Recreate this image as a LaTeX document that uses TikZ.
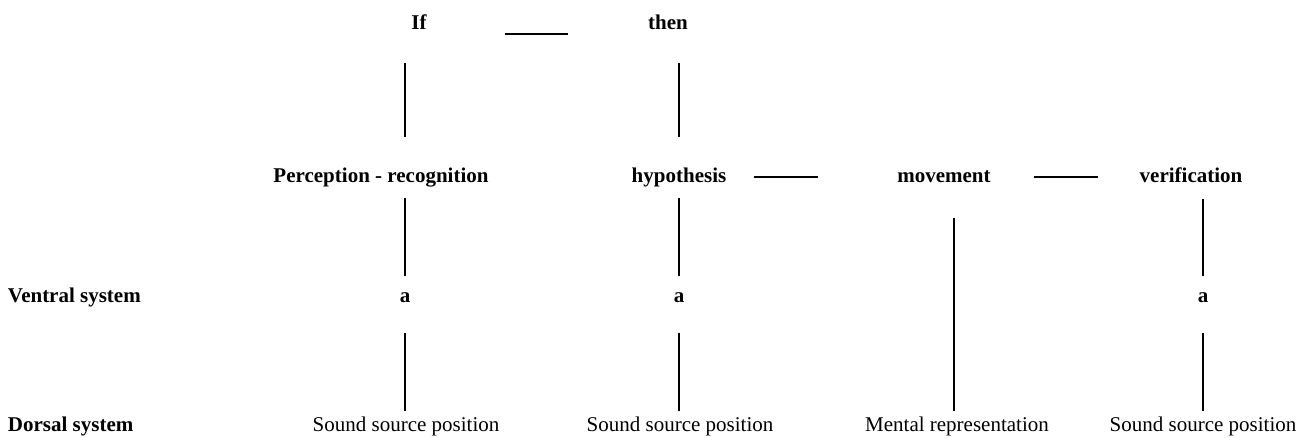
\documentclass[tikz,border=0pt]{standalone}
\usepackage{fontspec}
\setmainfont{Liberation Serif}
\usetikzlibrary{positioning}

\begin{document}
\begin{tikzpicture}[x=1pt, y=-1pt,
  word/.style={inner sep=0pt, outer sep=0pt, text height=15pt, text depth=5pt, anchor=base, font=\fontsize{21}{25}\selectfont\bfseries},
  plain/.style={word, font=\fontsize{21}{25}\selectfont},
  side/.style={word, anchor=base west},
  link/.style={line width=2pt}]
\useasboundingbox (0,0) rectangle (1311,437);

% If -- then
\node (if) [word] at (419,29.5) {If};
\node (then) [word] at (668,29.5) {then};

% Middle row
\node (percep) [word] at (381,182) {Perception - recognition};
\node (hypo) [word] at (679,182) {hypothesis};
\node (move) [word] at (944,182) {movement};
\node (verif) [word] at (1191,182) {verification};

% Ventral system
\node (ventral) [side] at (8,302) {Ventral system};
\node (a1) [word] at (405,302) {a};
\node (a2) [word] at (679,302) {a};
\node (a3) [word] at (1203,302) {a};

% Dorsal system
\node (dorsal) [side] at (8,431) {Dorsal system};
\node (src1) [plain] at (406,431) {Sound source position};
\node (src2) [plain] at (680,431) {Sound source position};
\node (mental) [plain] at (957,431) {Mental representation};
\node (src3) [plain] at (1203,431) {Sound source position};

% Horizontal links
\draw[link, shorten <=78pt, shorten >=80pt] ([yshift=0.5pt]if.south east) -- ([yshift=0.5pt]then.south west);
\draw[link, shorten <=28pt, shorten >=79pt] (hypo.east) -- (move.west);
\draw[link, shorten <=43pt, shorten >=42pt] (move.east) -- (verif.west);

% Vertical links
\draw[link, shorten <=28.5pt, shorten >=30pt] (if.south -| a1) -- (percep.north -| a1);
\draw[link, shorten <=28.5pt, shorten >=30pt] (then.south -| hypo) -- (hypo.north);
\draw[link, shorten <=11pt, shorten >=11pt] (percep.south -| a1) -- (a1.north);
\draw[link, shorten <=11pt, shorten >=11pt] (hypo.south) -- (a2.north);
\draw[link, shorten <=12pt, shorten >=11pt] (verif.south -| a3) -- (a3.north);
\draw[link, shorten <=26pt, shorten >=5pt] (a1.south) -- (src1.north -| a1);
\draw[link, shorten <=26pt, shorten >=5pt] (a2.south) -- (src2.north -| a2);
\draw[link, shorten <=26pt, shorten >=5pt] (a3.south) -- (src3.north);
\draw[link, shorten <=31pt, shorten >=5pt] (move.south -| 954,0) -- (mental.north -| 954,0);
\end{tikzpicture}
\end{document}
